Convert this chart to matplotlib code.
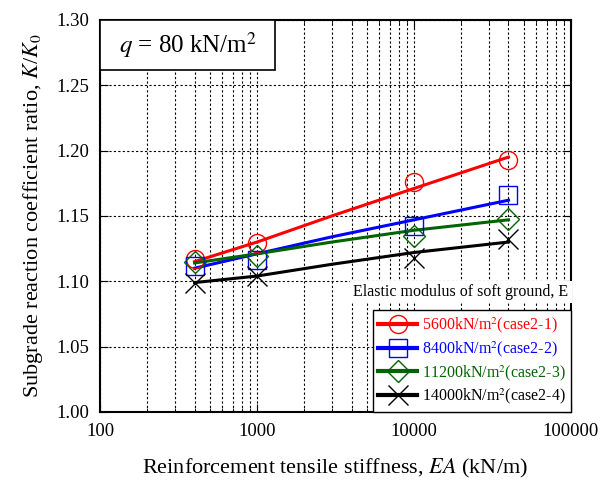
import matplotlib
matplotlib.use("Agg")
import matplotlib.pyplot as plt
from matplotlib.lines import Line2D
from matplotlib.patches import Rectangle
from matplotlib.ticker import LogLocator, FixedLocator

plt.rcParams['font.family'] = ['Liberation Serif', 'DejaVu Serif']
plt.rcParams['mathtext.fontset'] = 'stix'

# reinforcement tensile stiffness EA (kN/m)
ea_pts = [400, 1000, 10000, 40000]
ea_line = [400, 1000, 3000, 10000, 40000]

# measured K/K0 (markers)
k_56 = [1.117, 1.129, 1.176, 1.193]
k_84 = [1.112, 1.116, 1.142, 1.166]
k_112 = [1.115, 1.119, 1.135, 1.148]
k_140 = [1.099, 1.104, 1.118, 1.132]

# fitted lines
f_56 = [1.115, 1.130, 1.150, 1.171, 1.195]
f_84 = [1.110, 1.121, 1.134, 1.147, 1.162]
f_112 = [1.114, 1.121, 1.130, 1.139, 1.147]
f_140 = [1.099, 1.104, 1.113, 1.122, 1.130]

labels = ["5600kN/m$^2$(case2-1)", "8400kN/m$^2$(case2-2)",
          "11200kN/m$^2$(case2-3)", "14000kN/m$^2$(case2-4)"]
colors = ["#ff0000", "#0000ff", "#006400", "#000000"]
markers = ["o", "s", "D", "x"]
msizes = [13, 13, 11, 15]

fig = plt.figure(figsize=(6.1, 4.83), dpi=100)
ax = fig.add_axes([0.164, 0.147, 0.772, 0.812])

series = [(k_56, f_56), (k_84, f_84), (k_112, f_112), (k_140, f_140)]
handles = []
for (pts, fit), c, m, ms, lab in zip(series, colors, markers, msizes, labels):
    ax.plot(ea_line, fit, color=c, lw=2.2, zorder=3)
    ax.plot(ea_pts, pts, ls='none', marker=m, ms=ms, mfc='none', mec=c,
            mew=1.0, zorder=4)
    handles.append(Line2D([], [], color=c, lw=3, marker=m, ms=ms,
                          mfc='none', mec=c, mew=1.0))

ax.set_xscale('log')
ax.set_xlim(100, 100000)
ax.set_ylim(1.00, 1.30)
ax.yaxis.set_major_locator(FixedLocator([1.00, 1.05, 1.10, 1.15, 1.20, 1.25, 1.30]))
ax.set_yticklabels(["1.00", "1.05", "1.10", "1.15", "1.20", "1.25", "1.30"])
ax.xaxis.set_major_locator(FixedLocator([100, 1000, 10000, 100000]))
ax.set_xticklabels(["100", "1000", "10000", "100000"])
ax.xaxis.set_minor_locator(LogLocator(base=10, subs=range(2, 10)))
ax.xaxis.set_minor_formatter(plt.NullFormatter())

ax.grid(True, which='both', axis='x', color='black', ls=(0, (2, 2)), lw=0.8)
ax.grid(True, which='major', axis='y', color='black', ls=(0, (2, 2)), lw=0.8)
ax.tick_params(which='both', direction='in', top=True, right=True,
               labelsize=13.5, pad=8)
ax.tick_params(which='major', length=6)
ax.tick_params(which='minor', length=3)
for s in ax.spines.values():
    s.set_linewidth(1.5)

ax.set_xlabel(r"Reinforcement tensile stiffness, $EA$ (kN/m)", fontsize=16,
              labelpad=12)
ax.set_ylabel(r"Subgrade reaction coefficient ratio, $K$/$K_0$", fontsize=16,
              labelpad=8)

# load label box in the top-left corner
ax.add_patch(Rectangle((0.0, 0.872), 0.372, 0.128, transform=ax.transAxes,
                       fc='white', ec='black', lw=1.2, zorder=6))
ax.text(0.186, 0.936, r"$q$ = 80 kN/m$^2$", transform=ax.transAxes,
        fontsize=18, ha='center', va='center', zorder=7)

leg = ax.legend(handles, labels, loc='lower right', fontsize=11.5,
                frameon=True, fancybox=False, edgecolor='black',
                framealpha=1, borderaxespad=0, handlelength=2.4,
                handletextpad=0.3, labelspacing=0.25, borderpad=0.35)
leg.get_frame().set_linewidth(1.0)
for t, c in zip(leg.get_texts(), colors):
    t.set_color(c)
leg.set_zorder(7)

ax.text(0.995, 0.306, "Elastic modulus of soft ground, E", transform=ax.transAxes,
        fontsize=11.5, ha='right', va='center', zorder=8,
        bbox=dict(boxstyle='square,pad=0.2', fc='white', ec='none'))

fig.savefig("out.png", dpi=100)
